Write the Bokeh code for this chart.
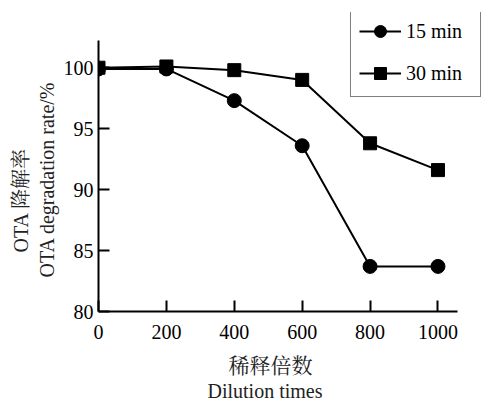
from bokeh.plotting import figure
from bokeh.models import Range1d, FixedTicker, Legend, LegendItem, Title
from bokeh.embed import file_html
from bokeh.resources import INLINE

dilution = [0, 200, 400, 600, 800, 1000]
rate_15 = [99.9, 99.9, 97.3, 93.6, 83.7, 83.7]
rate_30 = [100.0, 100.1, 99.8, 99.0, 93.8, 91.6]
x_ticks = [0, 200, 400, 600, 800, 1000]
y_ticks = [80, 85, 90, 95, 100]
x_label_cn = "稀释倍数"
x_label_en = "Dilution times"
y_label_cn = "OTA 降解率"
y_label_en = "OTA degradation rate/%"

SERIF = "Liberation Serif, Noto Serif CJK SC, Noto Sans CJK SC"

p = figure(width=485, height=402, output_backend="svg", toolbar_location=None,
           x_range=Range1d(0, 1140), y_range=Range1d(80, 104.53),
           min_border_left=98, min_border_right=0, min_border_top=12, min_border_bottom=88)
p.outline_line_color = None
p.grid.grid_line_color = None
p.background_fill_color = "white"
p.border_fill_color = "white"

for ax in (p.xaxis[0], p.yaxis[0]):
    ax.axis_line_width = 2
    ax.axis_line_color = "black"
    ax.major_tick_in = 11
    ax.major_tick_out = 0
    ax.major_tick_line_width = 2
    ax.minor_tick_line_color = None
    ax.major_label_text_font = SERIF
    ax.major_label_text_font_size = "20px"
    ax.major_label_text_color = "black"

p.xaxis.bounds = (0, 1057)
p.yaxis.bounds = (80, 102.25)
p.xaxis.ticker = FixedTicker(ticks=x_ticks)
p.yaxis.ticker = FixedTicker(ticks=y_ticks)
p.xaxis.major_label_standoff = 13
p.yaxis.major_label_standoff = 5


def make_title(text, size, offset, standoff, pad_top=0):
    t = Title(text=text, align="left", offset=offset, standoff=standoff,
              vertical_align="middle", text_font=SERIF, text_font_size=size,
              text_font_style="normal", text_color="#222222",
              padding=dict(left=0, right=0, top=pad_top, bottom=0))
    return t


p.add_layout(make_title(x_label_cn, "21px", 130, 0, 11), "below")
p.add_layout(make_title(x_label_en, "20px", 109, 0), "below")
p.add_layout(make_title(y_label_en, "20px", 34, 4), "left")
p.add_layout(make_title(y_label_cn, "20px", 59, 0), "left")

l15 = p.line(dilution, rate_15, line_color="black", line_width=2)
m15 = p.scatter(dilution, rate_15, marker="circle", size=14, fill_color="black", line_color="black")
l30 = p.line(dilution, rate_30, line_color="black", line_width=2)
m30 = p.scatter(dilution, rate_30, marker="square", size=13, fill_color="black", line_color="black")

legend = Legend(items=[LegendItem(label="15 min", renderers=[l15, m15]),
                       LegendItem(label="30 min", renderers=[l30, m30])],
                location=(252, 214))
legend.label_text_font = SERIF
legend.label_text_font_size = "20px"
legend.label_text_color = "black"
legend.glyph_width = 42
legend.glyph_height = 30
legend.label_height = 30
legend.label_width = 66
legend.spacing = 12
legend.padding = 8
legend.margin = 0
legend.label_standoff = 5
legend.border_line_color = "black"
legend.border_line_width = 1.5
legend.background_fill_color = "white"
legend.background_fill_alpha = 1
p.add_layout(legend)

open("out.html", "w").write(file_html(p, INLINE))
